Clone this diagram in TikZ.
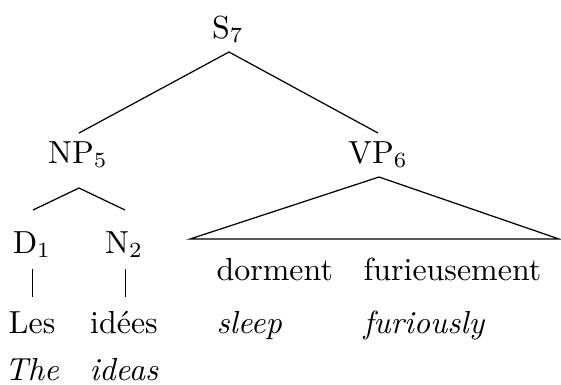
\documentclass[tikz,border=0pt]{standalone}
\usetikzlibrary{calc}
\begin{document}
\begin{tikzpicture}[x=0.3226pt,y=-0.3226pt,
  every node/.style={font=\fontsize{10.3}{12}\selectfont},
  lab/.style={inner sep=0pt, anchor=base},
  leaf/.style={inner sep=0pt, anchor=base west},
  edge/.style={line width=0.4pt}]
\useasboundingbox (0,0) rectangle (561,384);
\node[lab] (S) at (228,38) {S$_7$};
\node[lab] (NP) at (78,163) {NP$_5$};
\node[lab] (VP) at (378,163) {VP$_6$};
\node[lab] (D) at (32,253) {D$_1$};
\node[lab] (N) at (124,253) {N$_2$};
\node[lab] (Les) at (32,333) {Les};
\node[lab] (idees) at (124,333) {idées};
\node[lab] (The) at (32,380) {\textit{The}};
\node[lab] (ideas) at (124,380) {\textit{ideas}};
\node[leaf] (dorment) at (216,280) {dorment};
\node[leaf] (furieusement) at (363,280) {furieusement};
\node[leaf] (sleep) at (216,333) {\textit{sleep}};
\node[leaf] (furiously) at (363,333) {\textit{furiously}};
\coordinate (rl) at (190,239);
\coordinate (rr) at (559,239);
\draw[edge] ($(NP.base)+(1,-30)$) -- ($(S.base)+(1,14)$) -- ($(VP.base)+(0,-30)$);
\draw[edge] ($(D.base)+(1,-43)$) -- ($(NP.base)+(1,25)$) -- ($(N.base)+(1,-43)$);
\draw[edge] (rl) -- ($(VP.base)+(1,14)$) -- (rr) -- cycle;
\draw[edge] ($(D.base)+(0.5,16)$) -- ($(Les.base)+(0.5,-36)$);
\draw[edge] ($(N.base)+(1.5,16)$) -- ($(idees.base)+(1.5,-36)$);
\end{tikzpicture}
\end{document}
